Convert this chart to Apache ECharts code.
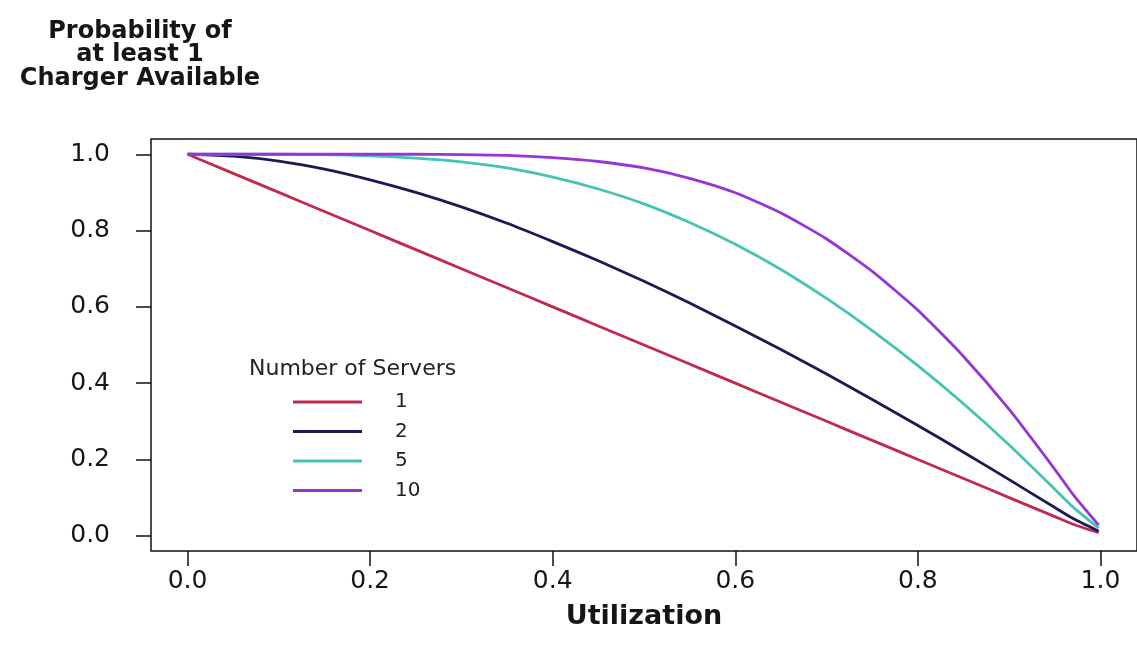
<!DOCTYPE html>
<html>
<head>
<meta charset="utf-8">
<script src="https://cdn.jsdelivr.net/npm/echarts@6/dist/echarts.min.js"></script>
<style>
  html, body { margin: 0; padding: 0; background: #fff; }
  #chart { width: 1137px; height: 658px; }
</style>
</head>
<body>
<div id="chart"></div>
<script>
// Utilization values shared by every curve
const utilization = [0, 0.05, 0.1, 0.15, 0.2, 0.25, 0.3, 0.35, 0.4, 0.45, 0.5, 0.55, 0.6, 0.65, 0.7, 0.75, 0.8, 0.85, 0.9, 0.95, 0.97, 0.998];

// Probability that at least one charger is free, per number of servers
const servers1  = [1, 0.95, 0.90, 0.85, 0.80, 0.75, 0.70, 0.65, 0.60, 0.55, 0.50, 0.45, 0.40, 0.35, 0.30, 0.25, 0.20, 0.15, 0.10, 0.05, 0.03, 0.008];
const servers2  = [1, 0.995, 0.982, 0.961, 0.933, 0.900, 0.862, 0.819, 0.771, 0.721, 0.667, 0.610, 0.550, 0.488, 0.424, 0.357, 0.289, 0.219, 0.147, 0.074, 0.045, 0.012];
const servers5  = [1, 1, 1, 0.999, 0.996, 0.990, 0.980, 0.964, 0.940, 0.909, 0.870, 0.821, 0.764, 0.698, 0.622, 0.538, 0.446, 0.346, 0.238, 0.122, 0.075, 0.02];
const servers10 = [1, 1, 1, 1, 1, 1, 0.999, 0.997, 0.991, 0.981, 0.964, 0.937, 0.899, 0.846, 0.778, 0.693, 0.591, 0.470, 0.331, 0.174, 0.108, 0.028];

const seriesNames = ['1', '2', '5', '10'];
const seriesValues = [servers1, servers2, servers5, servers10];
const seriesColors = ['#c2294f', '#1b1a55', '#46c3b3', '#9634d6'];

const tickValues = [0, 0.2, 0.4, 0.6, 0.8, 1.0];

const FONT = 'DejaVu Sans';
const INK = '#161616';

const chart = echarts.init(document.getElementById('chart'), null, { renderer: 'canvas' });

const tickStyle = {
  show: true,
  inside: false,
  length: 15,
  lineStyle: { color: '#111', width: 1.5 },
  customValues: tickValues
};

const labelStyle = margin => ({
  fontFamily: FONT,
  fontSize: 25,
  color: INK,
  margin: margin,
  customValues: tickValues,
  formatter: v => v.toFixed(1)
});

chart.setOption({
  backgroundColor: '#ffffff',
  animation: false,
  title: [
    {
      text: 'Probability of\nat least 1\nCharger Available',
      left: 135,
      top: 15,
      textAlign: 'center',
      textStyle: {
        fontFamily: FONT,
        fontWeight: 'bold',
        fontSize: 24,
        lineHeight: 23.5,
        color: INK,
        align: 'center'
      }
    },
    {
      text: 'Number of Servers',
      left: 249,
      top: 358,
      padding: 0,
      textStyle: {
        fontFamily: FONT,
        fontWeight: 'normal',
        fontSize: 22,
        color: '#222'
      }
    }
  ],
  legend: {
    orient: 'vertical',
    left: 293,
    top: 392,
    padding: 0,
    icon: 'rect',
    itemWidth: 69,
    itemHeight: 3,
    itemGap: 9.5,
    data: seriesNames,
    textStyle: {
      fontFamily: FONT,
      fontSize: 20,
      lineHeight: 20,
      color: '#222',
      padding: [0, 0, 0, 28]
    }
  },
  grid: {
    show: true,
    left: 151,
    top: 139,
    width: 995,
    height: 412,
    borderColor: '#111',
    borderWidth: 1.5,
    backgroundColor: 'transparent'
  },
  xAxis: {
    type: 'value',
    min: -0.04,
    max: 1.04,
    name: 'Utilization',
    nameLocation: 'middle',
    nameGap: 52,
    nameTextStyle: {
      fontFamily: FONT,
      fontWeight: 'bold',
      fontSize: 27,
      color: INK
    },
    axisLine: { show: false, onZero: false },
    splitLine: { show: false },
    axisTick: tickStyle,
    axisLabel: labelStyle(18)
  },
  yAxis: {
    type: 'value',
    min: -0.04,
    max: 1.04,
    axisLine: { show: false, onZero: false },
    splitLine: { show: false },
    axisTick: tickStyle,
    axisLabel: labelStyle(41)
  },
  series: seriesNames.map((name, i) => ({
    name: name,
    type: 'line',
    showSymbol: false,
    symbol: 'none',
    smooth: 0.2,
    color: seriesColors[i],
    lineStyle: { color: seriesColors[i], width: 2.8 },
    data: utilization.map((u, k) => [u, seriesValues[i][k]])
  }))
});
</script>
</body>
</html>
